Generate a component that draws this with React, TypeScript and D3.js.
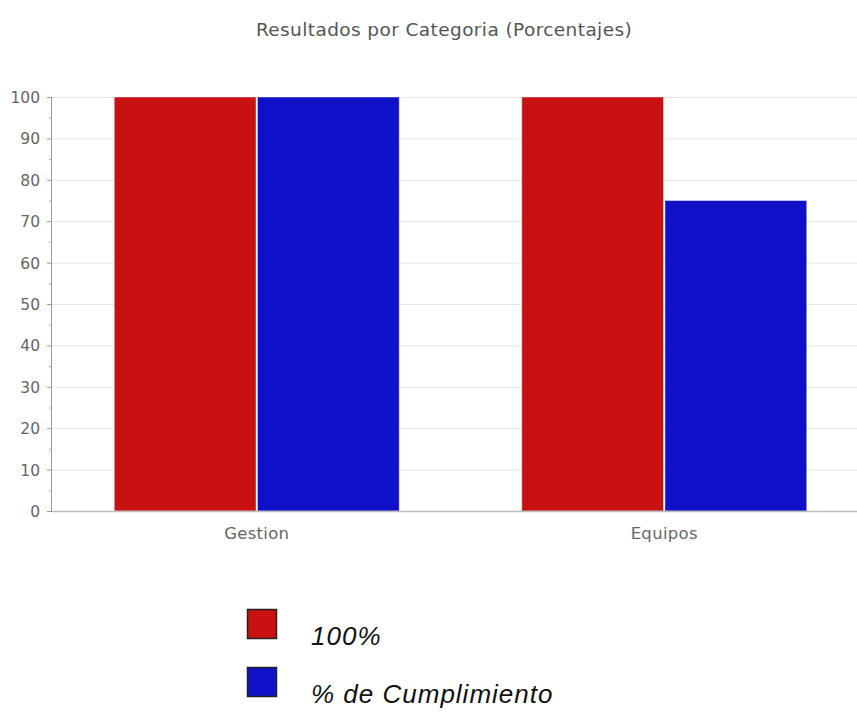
import React from "react";
import * as d3 from "d3";

const categories = ["Gestion", "Equipos"];
const seriesNames = ["100%", "% de Cumplimiento"];
const seriesTotal = [100, 100];
const seriesCumplimiento = [100, 75];
const yTicks = [0, 10, 20, 30, 40, 50, 60, 70, 80, 90, 100];
const colors = ["#c91111", "#1010c8"];

const W = 857;
const H = 713;
const left = 52;
const top = 97;
const bottom = 511;

export default function App() {
  const y = d3.scaleLinear().domain([0, 100]).range([bottom, top]);
  const x = d3.scaleBand<string>().domain(categories).range([left, 867]).padding(0);
  const bw = x.bandwidth();
  const groupW = 285;
  const inner = d3
    .scaleBand<string>()
    .domain(seriesNames)
    .range([(bw - groupW) / 2 + 1, (bw + groupW) / 2 + 1])
    .paddingInner(0.01);
  const series = [seriesTotal, seriesCumplimiento];
  const minor = d3.range(5, 100, 10);
  const font = "DejaVu Sans, sans-serif";

  return (
    <svg
      width={W}
      height={H}
      style={{ position: "absolute", left: 0, top: 0, background: "#fff" }}
    >
      <text
        x={444}
        y={36}
        textAnchor="middle"
        fontFamily={font}
        fontSize={18.5}
        letterSpacing={0.4}
        fill="#555"
      >
        Resultados por Categoria (Porcentajes)
      </text>
      {yTicks.map((t) => (
        <line key={"g" + t} x1={left} x2={W} y1={y(t) + 0.5} y2={y(t) + 0.5} stroke="#e6e6e6" />
      ))}
      {categories.map((c, ci) =>
        series.map((s, si) => (
          <rect
            key={c + si}
            x={x(c)! + inner(seriesNames[si])!}
            y={y(s[ci])}
            width={inner.bandwidth()}
            height={bottom - y(s[ci])}
            fill={colors[si]}
            stroke="rgba(255,255,255,0.45)"
            strokeWidth={1}
          />
        ))
      )}
      <line x1={left} x2={W} y1={bottom + 0.5} y2={bottom + 0.5} stroke="#bdbdbd" strokeWidth={1.5} />
      <line x1={left - 0.5} x2={left - 0.5} y1={top} y2={bottom + 1} stroke="#999" />
      {yTicks.map((t) => (
        <g key={"t" + t}>
          <line x1={left - 5} x2={left} y1={y(t) + 0.5} y2={y(t) + 0.5} stroke="#999" />
          <text
            x={left - 12}
            y={y(t) + 0.5}
            dy="0.36em"
            textAnchor="end"
            fontFamily={font}
            fontSize={15.5}
            fill="#666"
          >
            {t}
          </text>
        </g>
      ))}
      {minor.map((t) => (
        <line key={"m" + t} x1={left - 3} x2={left} y1={y(t) + 0.5} y2={y(t) + 0.5} stroke="#aaa" />
      ))}
      {categories.map((c) => (
        <text
          key={"c" + c}
          x={x(c)! + bw / 2 + 1}
          y={539}
          textAnchor="middle"
          fontFamily={font}
          fontSize={16.5}
          letterSpacing={0.3}
          fill="#666"
        >
          {c}
        </text>
      ))}
      {seriesNames.map((n, i) => (
        <g key={"l" + n} transform={`translate(0, ${i * 58})`}>
          <rect x={247.5} y={609.5} width={29} height={29} fill={colors[i]} stroke="#222" strokeWidth={1.5} />
          <text
            x={311}
            y={645}
            fontFamily="Liberation Sans, Arial, sans-serif"
            fontStyle="italic"
            fontSize={26}
            letterSpacing={1}
            fill="#111"
          >
            {n}
          </text>
        </g>
      ))}
    </svg>
  );
}
